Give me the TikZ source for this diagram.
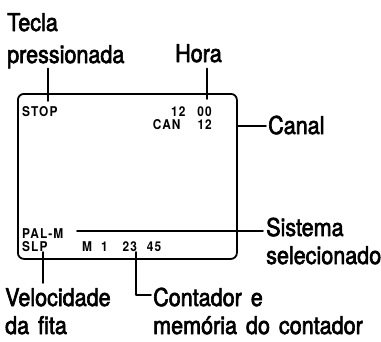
\documentclass[tikz,border=0pt]{standalone}
\usepackage{fontspec}
\setmainfont{TeX Gyre Heros}[FakeStretch=0.88, FakeBold=2.5, WordSpace=1.5]
\newfontfamily\lcdfont{TeX Gyre Heros}[FakeStretch=0.88, LetterSpace=8]

\begin{document}
\begin{tikzpicture}[x=1pt, y=-1pt, line join=round, line cap=round,
  label/.style={inner sep=0pt, anchor=base west, font=\fontsize{24.5}{28}\selectfont},
  lcd/.style={inner sep=0pt, anchor=base west, font=\lcdfont\bfseries\fontsize{13.5}{15}\selectfont},
  leader/.style={line width=1.8pt},
  screen/.style={draw, line width=1.8pt, rounded corners=6pt, inner sep=0pt}]
  \useasboundingbox (0,0) rectangle (381,341);
  % the display
  \node[screen, minimum width=219pt, minimum height=165pt, anchor=north west] (screen) at (17,93) {};
  \node[lcd] (stop) at (22,116) {STOP};
  \node[lcd, anchor=base east] (hour) at (212,116) {12\hspace{12pt}00};
  \node[lcd, anchor=base east] (chan) at (212,129) {CAN\hspace{17pt}12};
  \node[lcd] (pal) at (22,238) {PAL-M};
  \node[lcd] (slp) at (22,251) {SLP};
  \node[lcd] (count) at (82,251) {M\hspace{9pt}1\hspace{15pt}23\hspace{10pt}45};
  % labels
  \node[label] (tecla) at (7,31) {Tecla};
  \node[label] (pressionada) at (7,63) {pressionada};
  \node[label] (hora) at (175,62) {Hora};
  \node[label] (canal) at (268,134) {Canal};
  \node[label] (sistema) at (266,236) {Sistema};
  \node[label] (selecionado) at (266,264) {selecionado};
  \node[label] (velocidade) at (5,306) {Velocidade};
  \node[label] (dafita) at (5,334) {da fita};
  \node[label] (contador) at (153,306) {Contador e};
  \node[label] (memoria) at (153,334) {memória do contador};
  % leader lines
  \coordinate (stopmark) at (48,101);
  \coordinate (hourmark) at (207,99);
  \coordinate (chanmark) at (238,126);
  \coordinate (palmark) at (77,231);
  \coordinate (slpmark) at (43,252);
  \coordinate (countmark) at (136,252);
  \draw[leader] (stopmark |- pressionada.south) -- (stopmark);
  \draw[leader] (hourmark |- pressionada.south) -- (hourmark);
  \draw[leader, shorten >=2pt] (chanmark) -- (chanmark -| canal.west);
  \draw[leader, shorten >=3pt] (palmark) -- (palmark -| sistema.west);
  \draw[leader, shorten >=5pt] (slpmark) -- (slpmark |- velocidade.north);
  \draw[leader, shorten >=2pt] (countmark) |- ([yshift=2pt]contador.west);
\end{tikzpicture}
\end{document}
